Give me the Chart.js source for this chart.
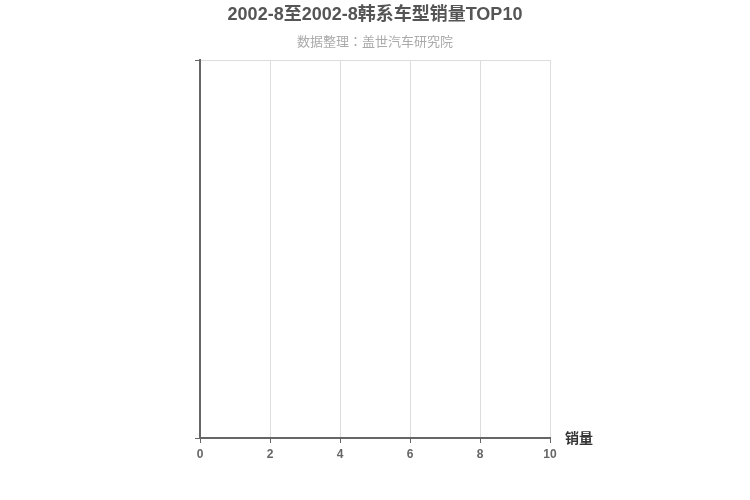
<!DOCTYPE html>
<html>
<head>
<meta charset="utf-8">
<script src="https://cdn.jsdelivr.net/npm/chart.js@4/dist/chart.umd.min.js"></script>
<style>
  html, body { margin: 0; padding: 0; background: #fff; }
  #wrap { width: 750px; height: 500px; }
</style>
</head>
<body>
<div id="wrap"><canvas id="salesChart"></canvas></div>
<script>
const titleText = '2002-8至2002-8韩系车型销量TOP10';
const subtitleText = '数据整理：盖世汽车研究院';
const axisName = '销量';

// no models in this period, so the lists stay empty
const models = [];
const sales = [];
const xMin = 0;
const xMax = 10;
const xStep = 2;

const FONT = '"Liberation Sans", Arial, "Noto Sans CJK SC", sans-serif';
const SUB_FONT = '"Noto Sans CJK JP", "Noto Sans CJK SC", sans-serif';

// title, subtitle and the axis name next to the x axis
const textPlugin = {
  id: 'texts',
  afterDraw(chart) {
    const c = chart.ctx;
    const area = chart.chartArea;
    c.save();
    c.textAlign = 'center';
    c.textBaseline = 'middle';
    c.fillStyle = '#555';
    c.font = 'bold 18px ' + FONT;
    c.fillText(titleText, chart.width / 2, 15);
    c.fillStyle = '#aaa';
    c.font = '13px ' + SUB_FONT;
    c.fillText(subtitleText, chart.width / 2, 41);
    c.textAlign = 'left';
    c.fillStyle = '#333';
    c.font = 'bold 14px ' + FONT;
    c.fillText(axisName, area.right + 15, area.bottom + 1);
    c.restore();
  }
};

const ctx = document.getElementById('salesChart').getContext('2d');
const chart = new Chart(ctx, {
  type: 'bar',
  data: {
    labels: models,
    datasets: [{
      label: axisName,
      data: sales,
      backgroundColor: '#c23531'
    }]
  },
  options: {
    indexAxis: 'y',
    responsive: true,
    maintainAspectRatio: false,
    animation: false,
    layout: { padding: { left: 190, right: 200, top: 60, bottom: 0 } },
    plugins: {
      legend: { display: false },
      tooltip: { enabled: false }
    },
    scales: {
      x: {
        type: 'linear',
        min: xMin,
        max: xMax,
        ticks: {
          stepSize: xStep,
          color: '#666',
          padding: 4,
          font: { family: FONT, size: 12, weight: 'bold' }
        },
        grid: {
          color: '#ddd',
          tickColor: '#666',
          tickLength: 5
        },
        border: { color: '#666', width: 2 },
        afterFit(scale) { scale.height = 62; }
      },
      y: {
        type: 'linear',
        min: 0,
        max: 1,
        offset: false,
        afterBuildTicks(scale) {
          // only the two band edges, as in an empty category axis
          scale.ticks = [{ value: 0 }, { value: 1 }];
        },
        ticks: {
          callback: () => ''
        },
        grid: {
          offset: false,
          color: '#ddd',
          tickColor: '#666',
          tickLength: 5
        },
        border: { color: '#666', width: 2 },
        afterFit(scale) { scale.width = 10; }
      }
    }
  },
  plugins: [textPlugin]
});
</script>
</body>
</html>
